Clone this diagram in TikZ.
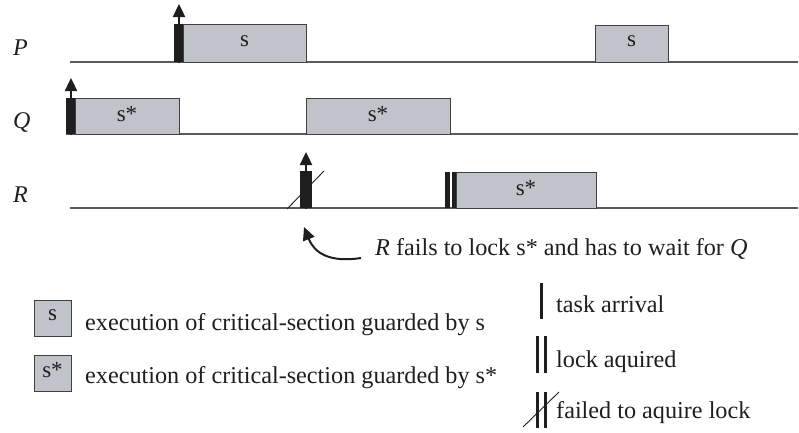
\documentclass[tikz,border=0pt]{standalone}
\usepackage{fontspec}
\setmainfont{Liberation Serif}
\usetikzlibrary{arrows.meta}
\definecolor{boxfill}{HTML}{C1C3CA}
\definecolor{linegray}{HTML}{5A5A5A}
\definecolor{ink}{HTML}{1E1E1E}
\tikzset{
  timeline/.style={draw=linegray, line width=1.6pt},
  csbox/.style={draw=ink!85, fill=boxfill, line width=0.9pt},
  boxlabel/.style={font=\fontsize{23}{23}\selectfont, text=ink},
  txt/.style={font=\fontsize{24.2}{26}\selectfont, text=ink, inner sep=0pt, anchor=base west},
  tasklabel/.style={font=\fontsize{24}{26}\itshape, text=ink, inner sep=0pt, anchor=base west},
  bar/.style={fill=ink, draw=none},
  arrivalarrow/.style={draw=ink, line width=2.4pt, -{Triangle[length=13pt,width=12pt]}},
  slash/.style={draw=ink, line width=0.9pt},
  markline/.style={draw=ink, line width=3pt},
}
\begin{document}
\begin{tikzpicture}[x=1pt,y=-1pt]
\useasboundingbox (0,0) rectangle (799,432);

% task names
\node[tasklabel] (lP) at (13,55) {P};
\node[tasklabel] (lQ) at (13,128) {Q};
\node[tasklabel] (lR) at (13,202) {R};

% time lines
\draw[timeline] (70,62) -- (798,62);
\draw[timeline] (66,134) -- (798,134);
\draw[timeline] (70,208) -- (798,208);

% task P
\draw[bar] (174,24) rectangle (183,62);
\draw[arrivalarrow] (179,63) -- (179,4);
\draw[csbox] (183,24) rectangle (306,62);
\node[boxlabel] (p1) at (244.5,41) {s};
\draw[csbox] (595,25) rectangle (668,62);
\node[boxlabel] (p2) at (631.5,41) {s};

% task Q
\draw[bar] (66,98) rectangle (75,134);
\draw[arrivalarrow] (71,135) -- (71,78);
\draw[csbox] (75,98) rectangle (179,134);
\node[boxlabel] (q1) at (127,114) {s*};
\draw[csbox] (306,98) rectangle (450,134);
\node[boxlabel] (q2) at (378,114) {s*};

% task R
\draw[bar] (300,171) rectangle (312,208);
\draw[arrivalarrow] (306,209) -- (306,152);
\draw[slash] (287,209) -- (324,171);
\coordinate (rfail) at (304,227);
\draw[bar] (445,172) rectangle (449.5,208);
\draw[bar] (451.5,172) rectangle (456,208);
\draw[csbox] (456,172) rectangle (596,208);
\node[boxlabel] (r1) at (526,188) {s*};

% annotation
\node[txt] (note) at (375,255) {\textit{R} fails to lock s* and has to wait for \textit{Q}};
\coordinate (notestart) at (361,258);
\draw[draw=ink, line width=2pt, -{Triangle[length=13pt,width=12pt]}]
  (notestart) .. controls (328,263) and (314,252) .. (rfail);

% legend: critical sections
\draw[csbox] (34,300) rectangle (71,336);
\node[boxlabel] (ls) at (52.5,315) {s};
\node[txt] (lst) at (85,330) {execution of critical-section guarded by s};
\draw[csbox] (34,355) rectangle (71,391);
\node[boxlabel] (lss) at (52.5,370) {s*};
\node[txt] (lsst) at (85,383) {execution of critical-section guarded by s*};

% legend: markers
\draw[markline] (541,283) -- (541,319);
\node[txt] (la) at (556,312) {task arrival};
\draw[markline] (537.5,336) -- (537.5,373);
\draw[markline] (545.5,336) -- (545.5,373);
\node[txt] (ll) at (556,367) {lock aquired};
\draw[markline] (537.5,392) -- (537.5,428);
\draw[markline] (545.5,392) -- (545.5,428);
\draw[slash] (523,427) -- (559,392);
\node[txt] (lf) at (556,418) {failed to aquire lock};
\end{tikzpicture}
\end{document}
